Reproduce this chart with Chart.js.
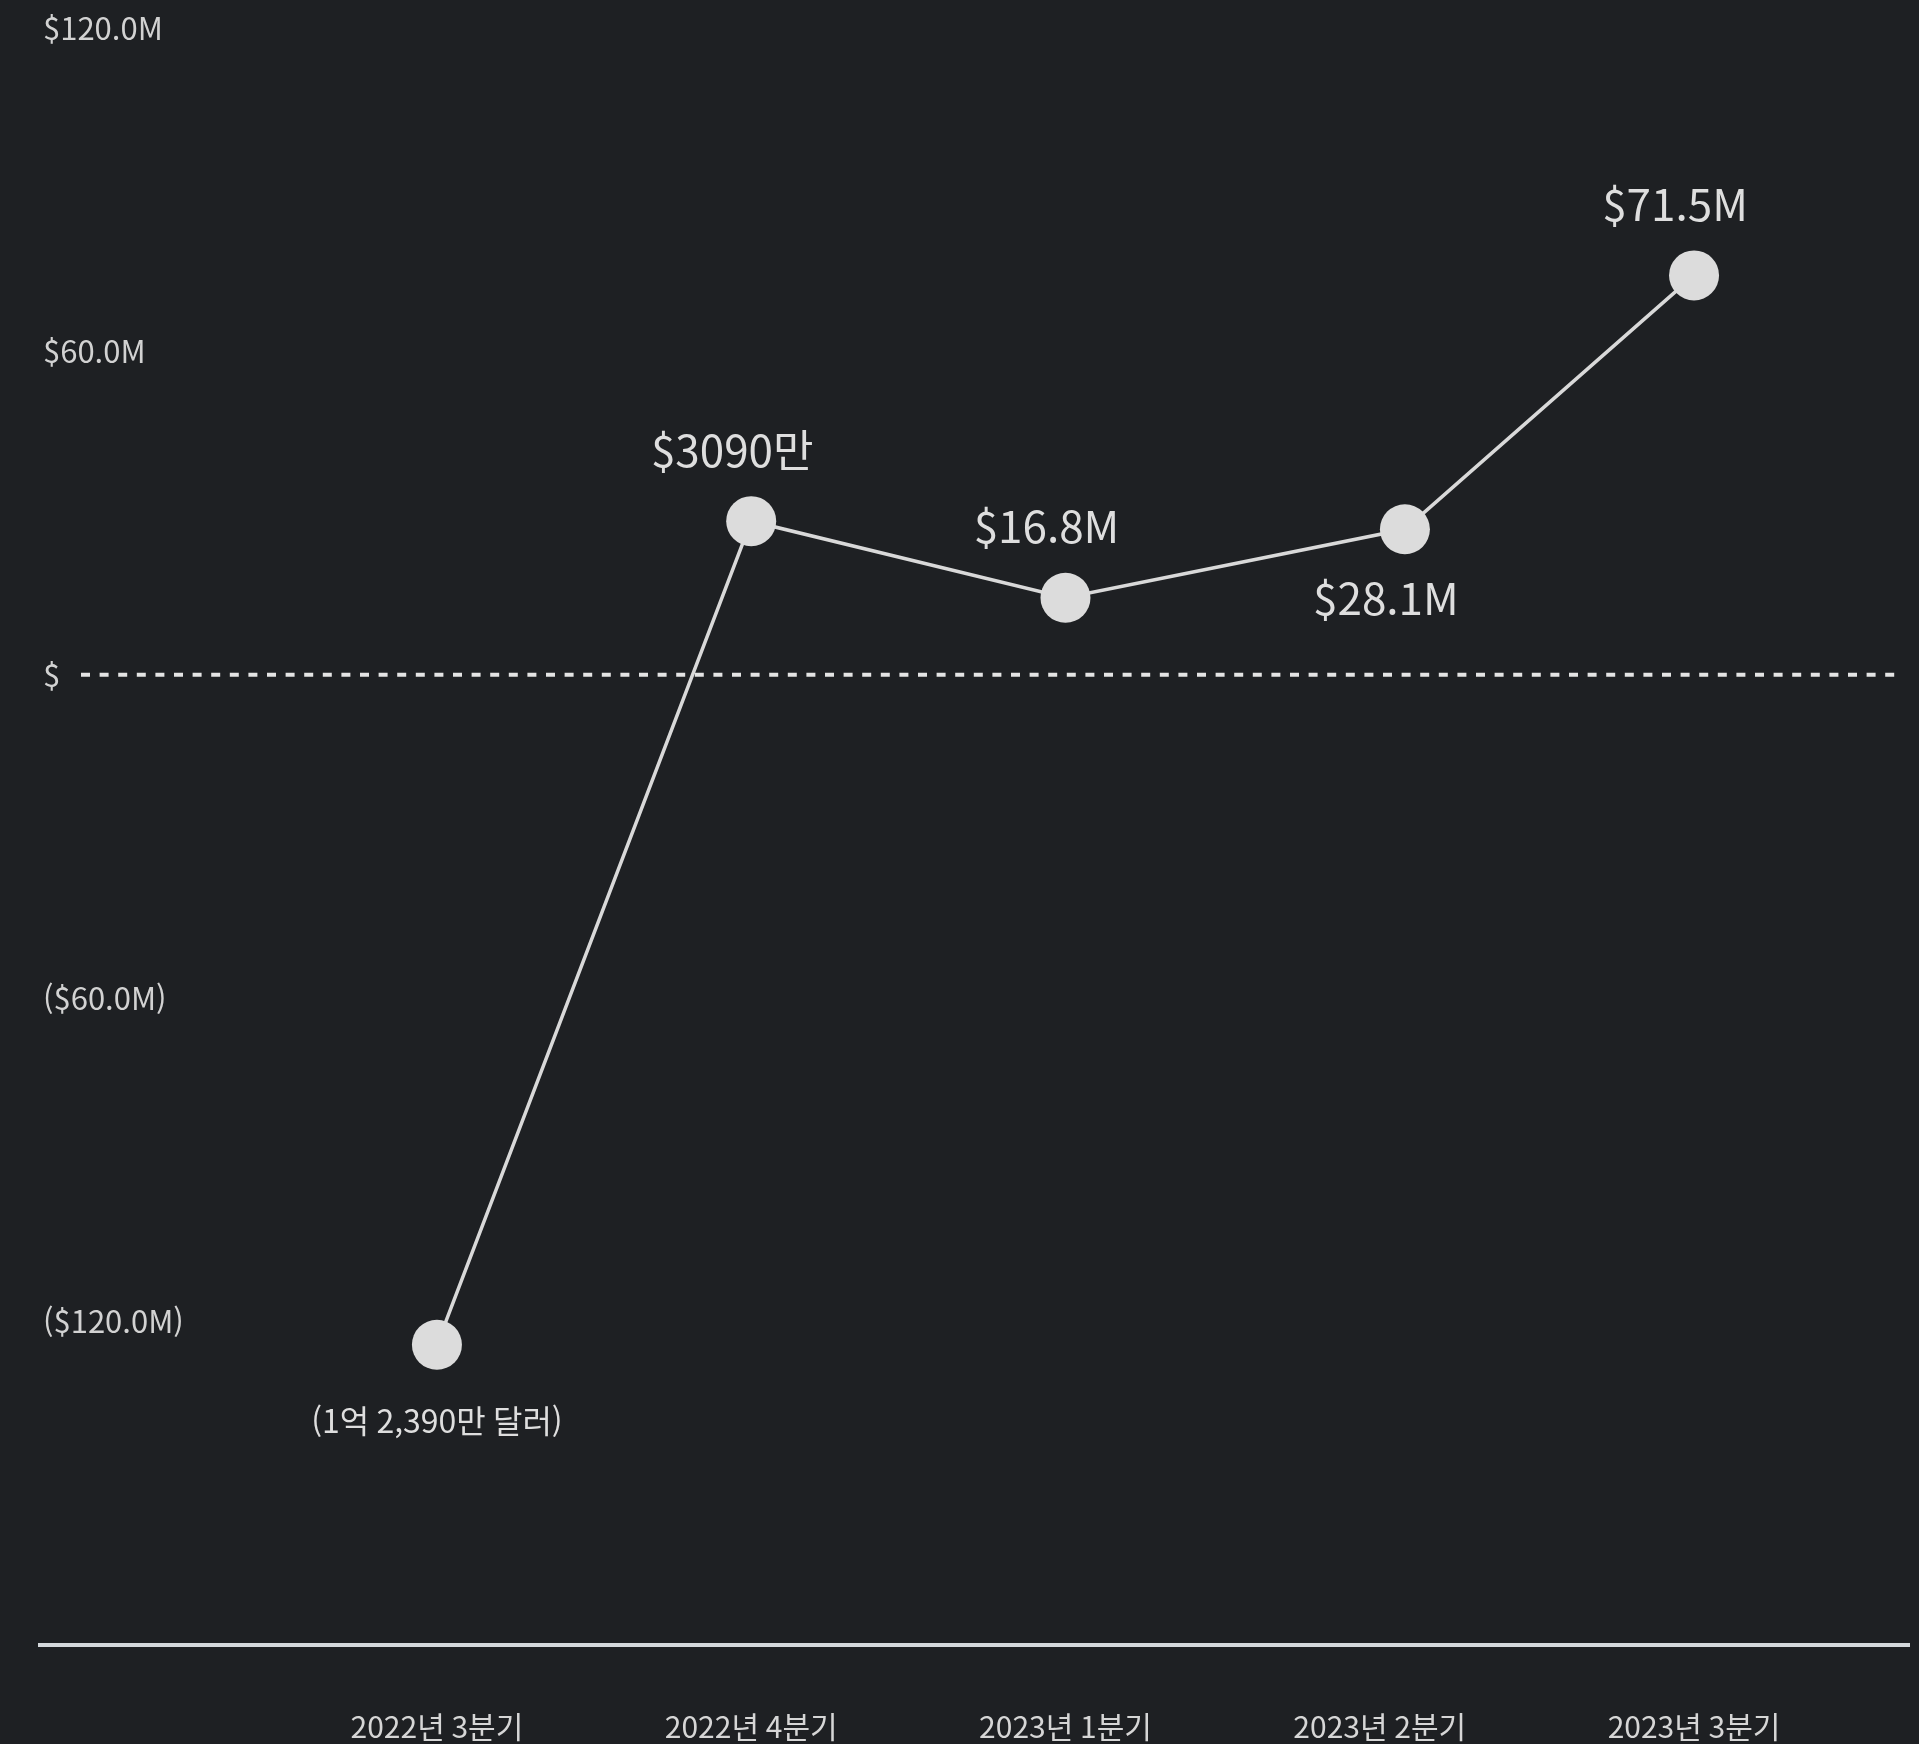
<!DOCTYPE html>
<html lang="ko">
<head>
<meta charset="utf-8">
<title>분기별 실적</title>
<script src="https://cdn.jsdelivr.net/npm/chart.js@4.4.1/dist/chart.umd.min.js"></script>
<style>
    html, body { margin: 0; padding: 0; background: #1e2023; overflow: hidden; }
    #wrap { width: 1919px; height: 1744px; position: relative; overflow: hidden; }
    #chart { display: block; }
</style>
</head>
<body>
<div id="wrap"><canvas id="chart"></canvas></div>
<script>
// 데이터 (단위: 백만 달러)
const categories = ['2022년 3분기', '2022년 4분기', '2023년 1분기', '2023년 2분기', '2023년 3분기'];
const xPos = [0, 1, 2, 3.08, 4];
const values = [-124.3, 28.5, 14.3, 27.0, 74.1];
const pointLabels = ['(1억 2,390만 달러)', '$3090만', '$16.8M', '$28.1M', '$71.5M'];

// y축 눈금
const yTickValues = [120, 60, 0, -60, -120];
const yTickLabels = ['$120.0M', '$60.0M', '$', '($60.0M)', '($120.0M)'];

// 레이블 위치 (스타일)
const labelPlacement = ['below', 'above', 'above', 'below', 'above'];

const FONT = "'Noto Sans CJK KR', 'Noto Sans', sans-serif";

// 0 기준 점선
const zeroLinePlugin = {
    id: 'zeroLine',
    beforeDatasetsDraw(chart) {
        const { ctx, chartArea, scales } = chart;
        const y = scales.y.getPixelForValue(0);
        ctx.save();
        ctx.strokeStyle = '#e4e4e4';
        ctx.lineWidth = 4;
        ctx.setLineDash([9, 9.6]);
        ctx.beginPath();
        ctx.moveTo(chartArea.left + 41, y);
        ctx.lineTo(chartArea.right - 7, y);
        ctx.stroke();
        ctx.restore();
    }
};

// 값 레이블
const dataLabelPlugin = {
    id: 'dataLabels',
    afterDatasetsDraw(chart) {
        const ctx = chart.ctx;
        const meta = chart.getDatasetMeta(0);
        meta.data.forEach((pt, i) => {
            const big = i !== 0;
            ctx.save();
            ctx.font = (big ? 44 : 32) + 'px ' + FONT;
            ctx.fillStyle = '#dedede';
            ctx.textAlign = 'center';
            ctx.textBaseline = 'middle';
            let dy = labelPlacement[i] === 'above' ? -71 : 69;
            if (!big) dy = 76;
            ctx.fillText(pointLabels[i], pt.x + (big ? -19 : 0), pt.y + dy);
            ctx.restore();
        });
    }
};

const ctx = document.getElementById('chart').getContext('2d');

new Chart(ctx, {
    type: 'line',
    data: {
        datasets: [{
            data: categories.map((c, i) => ({ x: xPos[i], y: values[i] })),
            borderColor: '#d9d9d9',
            borderWidth: 3.5,
            pointRadius: 25,
            pointHoverRadius: 25,
            pointBackgroundColor: '#dcdcdc',
            pointBorderColor: '#dcdcdc',
            pointBorderWidth: 0,
            tension: 0,
            clip: false
        }]
    },
    options: {
        responsive: true,
        maintainAspectRatio: false,
        animation: false,
        layout: { autoPadding: false, padding: { top: 28, left: 40, right: 10, bottom: 0 } },
        plugins: {
            legend: { display: false },
            tooltip: { enabled: false }
        },
        scales: {
            x: {
                type: 'linear',
                min: -1.263,
                max: 4.684,
                grid: { display: false },
                border: { display: true, color: '#d4d8dc', width: 4 },
                afterBuildTicks: (scale) => {
                    scale.ticks = categories.map((c, i) => ({ value: i }));
                },
                afterFit: (scale) => { scale.height = 99; },
                ticks: {
                    autoSkip: false,
                    maxRotation: 0,
                    padding: 56,
                    color: '#d6d6d6',
                    font: { family: FONT, size: 30 },
                    callback: (v) => categories[v]
                }
            },
            y: {
                min: -180,
                max: 120,
                grid: { display: false },
                border: { display: false },
                afterBuildTicks: (scale) => {
                    scale.ticks = yTickValues.map(v => ({ value: v }));
                },
                afterFit: (scale) => { scale.width = 0; },
                ticks: {
                    mirror: true,
                    padding: 3,
                    color: '#d2d2d2',
                    font: { family: FONT, size: 31 },
                    callback: (v) => yTickLabels[yTickValues.indexOf(v)]
                }
            }
        }
    },
    plugins: [zeroLinePlugin, dataLabelPlugin]
});
</script>
</body>
</html>
